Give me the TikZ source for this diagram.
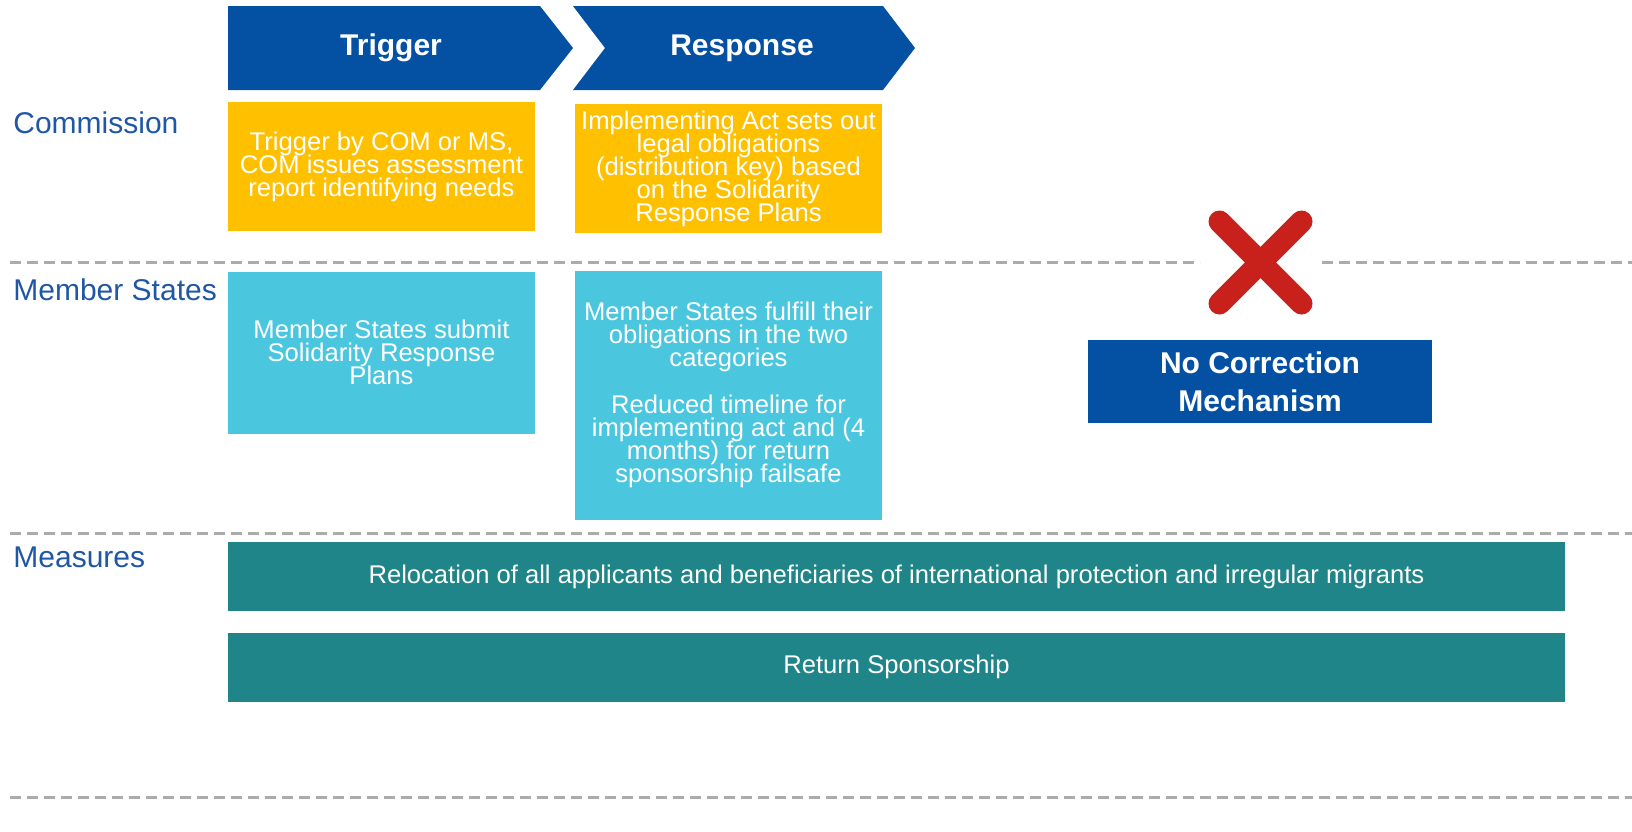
\documentclass[tikz,border=0pt]{standalone}
\usepackage{fontspec}
\setmainfont{Liberation Sans}
\usepackage{xcolor}
\usepackage{tikz}
\usetikzlibrary{positioning}

\definecolor{chevblue}{HTML}{0450A3}
\definecolor{comyellow}{HTML}{FFC000}
\definecolor{mscyan}{HTML}{4BC6DF}
\definecolor{measteal}{HTML}{1F8589}
\definecolor{crossred}{HTML}{C8201A}
\definecolor{rowblue}{HTML}{1F57A6}
\definecolor{sepgray}{HTML}{ABABAB}

\newcommand\cardfont{\fontsize{12.8pt}{11.5pt}\selectfont\lineskiplimit=-20pt\relax}

\tikzset{
  rowlabel/.style={anchor=west, inner sep=0pt, text=rowblue, font=\fontsize{15pt}{18pt}\selectfont},
  phase/.style={inner sep=0pt, text=white, font=\bfseries\fontsize{15pt}{18pt}\selectfont},
  card/.style={inner sep=0pt, text=white, align=center, font=\cardfont},
  combox/.style={card, fill=comyellow, minimum width=153.5pt},
  msbox/.style={card, fill=mscyan, minimum width=153.5pt},
  measbox/.style={card, fill=measteal, minimum width=668.5pt, minimum height=34.5pt},
  sepline/.style={sepgray, line width=1.5pt, dash pattern=on 5.5pt off 3pt}
}

\begin{document}
\begin{tikzpicture}[x=0.5pt, y=-0.5pt]

  \useasboundingbox (0,0) rectangle (1632,831);

  % Separators
  \draw[sepline] (10,262) -- (1200,262);
  \draw[sepline] (1322,262) -- (1632,262);
  \draw[sepline] (10,533) -- (1632,533);
  \draw[sepline] (10,797) -- (1632,797);

  % Phases
  \fill[chevblue] (228,6) -- (540,6) -- (573,48) -- (540,90) -- (228,90) -- cycle;
  \fill[chevblue] (573,6) -- (883,6) -- (915,48) -- (883,90) -- (573,90) -- (605,48) -- cycle;
  \node[phase] (trigger) at (391,48) {Trigger};
  \node[phase] (response) at (742,48) {Response};

  % Row labels
  \node[rowlabel] (commission) at (13,123) {Commission};
  \node[rowlabel] (memberstates) at (13,290) {Member States};
  \node[rowlabel] (measures) at (13,557) {Measures};

  % Define nodes
  \node[combox, minimum height=64.5pt] (comtrigger) at (381.5,166.5)
    {Trigger by COM or MS,\\COM issues assessment\\report identifying needs};
  \node[combox, minimum height=64.5pt] (comresponse) at (728.5,168.5)
    {Implementing Act sets out\\legal obligations\\(distribution key) based\\on the Solidarity\\Response Plans};
  \node[msbox, minimum height=81pt, below=20pt of comtrigger] (mstrigger)
    {Member States submit\\Solidarity Response\\Plans};
  \node[msbox, minimum height=124.5pt, below=18.5pt of comresponse] (msresponse)
    {Member States fulfill their\\obligations in the two\\categories\\[12pt]Reduced timeline for\\implementing act and (4\\months) for return\\sponsorship failsafe};
  \node[measbox] (relocation) at (896.5,576.5)
    {Relocation of all applicants and beneficiaries of international protection and irregular migrants};
  \node[measbox, below=10.5pt of relocation] (sponsorship) {Return Sponsorship};

  % No correction
  \coordinate (cross) at (1260.5,262.5);
  \draw[crossred, line width=11pt, line cap=round]
    ([shift={(-41,-41)}]cross) -- ([shift={(41,41)}]cross);
  \draw[crossred, line width=11pt, line cap=round]
    ([shift={(-41,41)}]cross) -- ([shift={(41,-41)}]cross);
  \node[phase, fill=chevblue, align=center, minimum width=172pt, minimum height=41.5pt,
    font=\bfseries\fontsize{15pt}{19pt}\selectfont] (nocorrection) at (1260,381.5)
    {No Correction\\Mechanism};

\end{tikzpicture}
\end{document}
